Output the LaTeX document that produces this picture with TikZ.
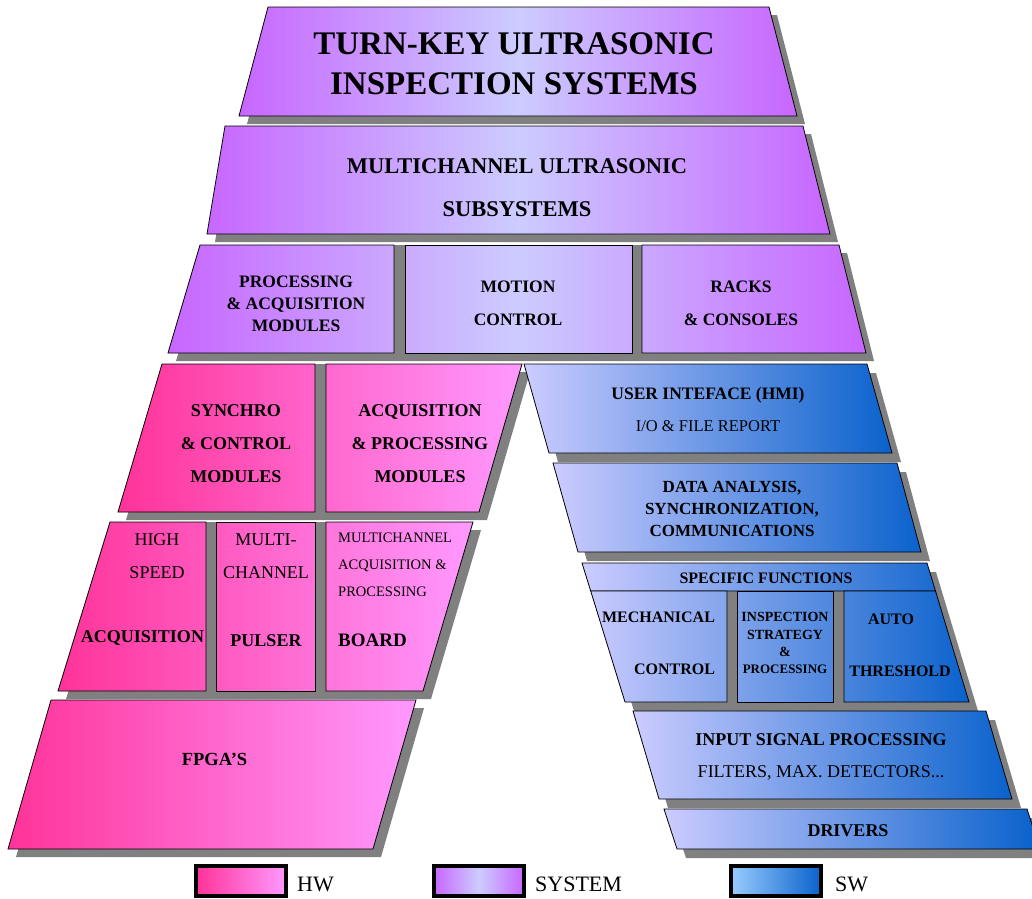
\documentclass[tikz,border=0pt]{standalone}
\usepackage{fontspec}
\setmainfont{Liberation Serif}
\usepackage{tikz}

\definecolor{hwdark}{HTML}{FF3399}
\definecolor{hwlight}{HTML}{FF99FF}
\definecolor{sysedge}{HTML}{C866FF}
\definecolor{sysmid}{HTML}{CCCCFF}
\definecolor{swlight}{HTML}{CCCCFF}
\definecolor{swdark}{HTML}{0A62CC}
\definecolor{swleg}{HTML}{99CCFF}
\definecolor{shadowgray}{HTML}{808080}

\newcommand{\setfs}[2]{\fontsize{#1}{#2}\selectfont}

% shaded box: clip the outline, shade the whole row, then draw the outline
\newcommand{\layerbox}[3]{%
  \begin{scope}
    \clip #3;
    \shade[#1] #2;
  \end{scope}
  \draw[boxline] #3;
}

\tikzset{
  shadowfill/.style={fill=shadowgray, draw=none},
  boxline/.style={draw=black, line width=0.8pt},
  hwshade/.style={left color=hwdark, right color=hwlight},
  sysshade/.style={left color=sysedge, right color=sysedge, middle color=sysmid},
  swshade/.style={left color=swlight, right color=swdark},
  lbl/.style={inner sep=0pt, align=center, text=black},
  legendbox/.style={draw=black, line width=3.5pt}
}

\begin{document}
\begin{tikzpicture}[x=1pt, y=-1pt]
  \useasboundingbox (0,0) rectangle (1032,898);

  % Top layer
  \fill[shadowfill, shift={(8,8)}] (268,7) -- (769,7) -- (797,116) -- (239,116) -- cycle;
  \layerbox{sysshade}{(239,7) rectangle (797,116)}{(268,7) -- (769,7) -- (797,116) -- (239,116) -- cycle}
  \node[lbl, font=\bfseries\setfs{33}{40}] (turnkey) at (514,64) {TURN-KEY ULTRASONIC\\INSPECTION SYSTEMS};

  % Subsystems layer
  \fill[shadowfill, shift={(8,8)}] (225,126) -- (803,126) -- (830,234) -- (207,234) -- cycle;
  \layerbox{sysshade}{(207,126) rectangle (830,234)}{(225,126) -- (803,126) -- (830,234) -- (207,234) -- cycle}
  \node[lbl, font=\bfseries\setfs{22.5}{43}] (subsys) at (517,188) {MULTICHANNEL ULTRASONIC\\SUBSYSTEMS};

  % Modules row
  \fill[shadowfill, shift={(8,8)}] (200,245) -- (839,245) -- (866,353) -- (168,353) -- cycle;
  \fill[shadowfill] (200,245) -- (839,245) -- (866,353) -- (168,353) -- cycle;
  \layerbox{sysshade}{(168,245) rectangle (866,353)}{(200,245) -- (394,245) -- (394,353) -- (168,353) -- cycle}
  \layerbox{sysshade}{(168,245) rectangle (866,353)}{(405,245) -- (632,245) -- (632,353) -- (405,353) -- cycle}
  \layerbox{sysshade}{(168,245) rectangle (866,353)}{(642,245) -- (839,245) -- (866,353) -- (642,353) -- cycle}
  \node[lbl, font=\bfseries\setfs{17.5}{22}] (procmod) at (296,304) {PROCESSING\\\& ACQUISITION\\MODULES};
  \node[lbl, font=\bfseries\setfs{17.5}{33}] (motion) at (518,303.5) {MOTION\\CONTROL};
  \node[lbl, font=\bfseries\setfs{17.5}{33}] (racks) at (741,303.5) {RACKS\\\& CONSOLES};

  % HW: module row
  \fill[shadowfill, shift={(8,8)}] (162,364) -- (522,364) -- (479,512) -- (118,512) -- cycle;
  \fill[shadowfill] (162,364) -- (522,364) -- (479,512) -- (118,512) -- cycle;
  \layerbox{hwshade}{(118,364) rectangle (522,512)}{(162,364) -- (315,364) -- (315,512) -- (118,512) -- cycle}
  \layerbox{hwshade}{(118,364) rectangle (522,512)}{(326,364) -- (522,364) -- (479,512) -- (326,512) -- cycle}
  \node[lbl, font=\bfseries\setfs{18}{33}] (synchro) at (236,444) {SYNCHRO\\\& CONTROL\\MODULES};
  \node[lbl, font=\bfseries\setfs{18}{33}] (acqmod) at (420,444) {ACQUISITION\\\& PROCESSING\\MODULES};

  % HW: board row
  \fill[shadowfill, shift={(8,8)}] (110,522) -- (473,522) -- (423,691) -- (58,691) -- cycle;
  \fill[shadowfill] (110,522) -- (473,522) -- (423,691) -- (58,691) -- cycle;
  \layerbox{hwshade}{(58,522) rectangle (473,691)}{(110,522) -- (206,522) -- (206,691) -- (58,691) -- cycle}
  \layerbox{hwshade}{(58,522) rectangle (473,691)}{(216,522) -- (315,522) -- (315,691) -- (216,691) -- cycle}
  \layerbox{hwshade}{(58,522) rectangle (473,691)}{(326,522) -- (473,522) -- (423,691) -- (326,691) -- cycle}
  \node[lbl, font=\setfs{18}{33}] (highspeed) at (157,556.5) {HIGH\\SPEED};
  \node[lbl, font=\bfseries\setfs{18}{22}] (hsacq) at (142.5,638) {ACQUISITION};
  \node[lbl, font=\setfs{18}{33}] (multich) at (266,556.5) {MULTI-\\CHANNEL};
  \node[lbl, font=\bfseries\setfs{18}{22}] (pulser) at (266,641) {PULSER};
  \node[lbl, align=left, anchor=west, font=\setfs{14.5}{27}] (boardtxt) at (338,565) {MULTICHANNEL\\ACQUISITION \&\\PROCESSING};
  \node[lbl, anchor=west, font=\bfseries\setfs{19}{22}] (board) at (338,640) {BOARD};

  % HW: FPGA
  \fill[shadowfill, shift={(8,8)}] (51,700) -- (416,700) -- (373,849) -- (8,849) -- cycle;
  \layerbox{hwshade}{(8,700) rectangle (416,849)}{(51,700) -- (416,700) -- (373,849) -- (8,849) -- cycle}
  \node[lbl, font=\bfseries\setfs{18.5}{22}] (fpga) at (214.5,759) {FPGA’S};

  % SW: user interface
  \fill[shadowfill, shift={(9,9)}] (524,364) -- (867,364) -- (892,453) -- (549,453) -- cycle;
  \layerbox{swshade}{(524,364) rectangle (892,453)}{(524,364) -- (867,364) -- (892,453) -- (549,453) -- cycle}
  \node[lbl, font=\bfseries\setfs{17.5}{22}] (hmi) at (708,395) {USER INTEFACE (HMI)};
  \node[lbl, font=\setfs{16.5}{22}] (report) at (708,426.5) {I/O \& FILE REPORT};

  % SW: data analysis
  \fill[shadowfill, shift={(9,9)}] (553,463) -- (897,463) -- (921,552) -- (578,552) -- cycle;
  \layerbox{swshade}{(553,463) rectangle (921,552)}{(553,463) -- (897,463) -- (921,552) -- (578,552) -- cycle}
  \node[lbl, font=\bfseries\setfs{17}{22}] (analysis) at (732,509) {DATA ANALYSIS,\\SYNCHRONIZATION,\\COMMUNICATIONS};

  % SW: specific functions
  \fill[shadowfill, shift={(9,9)}] (582,563) -- (927,563) -- (969,702) -- (625,702) -- cycle;
  \fill[shadowfill] (582,563) -- (927,563) -- (969,702) -- (625,702) -- cycle;
  \layerbox{swshade}{(582,563) rectangle (969,702)}{(582,563) -- (927,563) -- (935.5,591) -- (590.7,591) -- cycle}
  \layerbox{swshade}{(582,563) rectangle (969,702)}{(590.7,591) -- (727,591) -- (727,702) -- (625,702) -- cycle}
  \layerbox{swshade}{(582,563) rectangle (969,702)}{(737,591) -- (833,591) -- (833,702) -- (737,702) -- cycle}
  \layerbox{swshade}{(582,563) rectangle (969,702)}{(844,591) -- (935.5,591) -- (969,702) -- (844,702) -- cycle}
  \node[lbl, font=\bfseries\setfs{16}{22}] (specific) at (766,578.7) {SPECIFIC FUNCTIONS};
  \node[lbl, font=\bfseries\setfs{16}{22}] (mech) at (658.5,617.7) {MECHANICAL};
  \node[lbl, font=\bfseries\setfs{16}{22}] (mechctl) at (674.5,669.7) {CONTROL};
  \node[lbl, font=\bfseries\setfs{14}{17.3}] (strategy) at (785,643.3) {INSPECTION\\STRATEGY\\\&\\{\setfs{13}{17.3}PROCESSING}};
  \node[lbl, font=\bfseries\setfs{16}{22}] (auto) at (891,619.7) {AUTO};
  \node[lbl, font=\bfseries\setfs{16}{22}] (threshold) at (900,671.7) {THRESHOLD};

  % SW: input signal processing
  \fill[shadowfill, shift={(9,9)}] (633,711) -- (986,711) -- (1012,799) -- (659,799) -- cycle;
  \layerbox{swshade}{(633,711) rectangle (1012,799)}{(633,711) -- (986,711) -- (1012,799) -- (659,799) -- cycle}
  \node[lbl, font=\bfseries\setfs{18}{22}] (inputsig) at (821,740) {INPUT SIGNAL PROCESSING};
  \node[lbl, font=\setfs{18}{22}] (filters) at (821,773) {FILTERS, MAX. DETECTORS...};

  % SW: drivers
  \fill[shadowfill, shift={(9,9)}] (664,809) -- (1027,809) -- (1040,849) -- (677,849) -- cycle;
  \layerbox{swshade}{(664,809) rectangle (1036,849)}{(664,809) -- (1027,809) -- (1040,849) -- (677,849) -- cycle}
  \node[lbl, font=\bfseries\setfs{18}{22}] (drivers) at (848,831) {DRIVERS};

  % Legend
  \path[legendbox, hwshade] (196,866) rectangle (286,896);
  \node[lbl, anchor=west, font=\setfs{22}{26}] (hwlbl) at (297,884.7) {HW};
  \path[legendbox, sysshade] (434,866) rectangle (524,896);
  \node[lbl, anchor=west, font=\setfs{22}{26}] (syslbl) at (535,884.7) {SYSTEM};
  \path[legendbox, left color=swleg, right color=swdark] (731,866) rectangle (821,896);
  \node[lbl, anchor=west, font=\setfs{22}{26}] (swlbl) at (835,884.7) {SW};
\end{tikzpicture}
\end{document}
